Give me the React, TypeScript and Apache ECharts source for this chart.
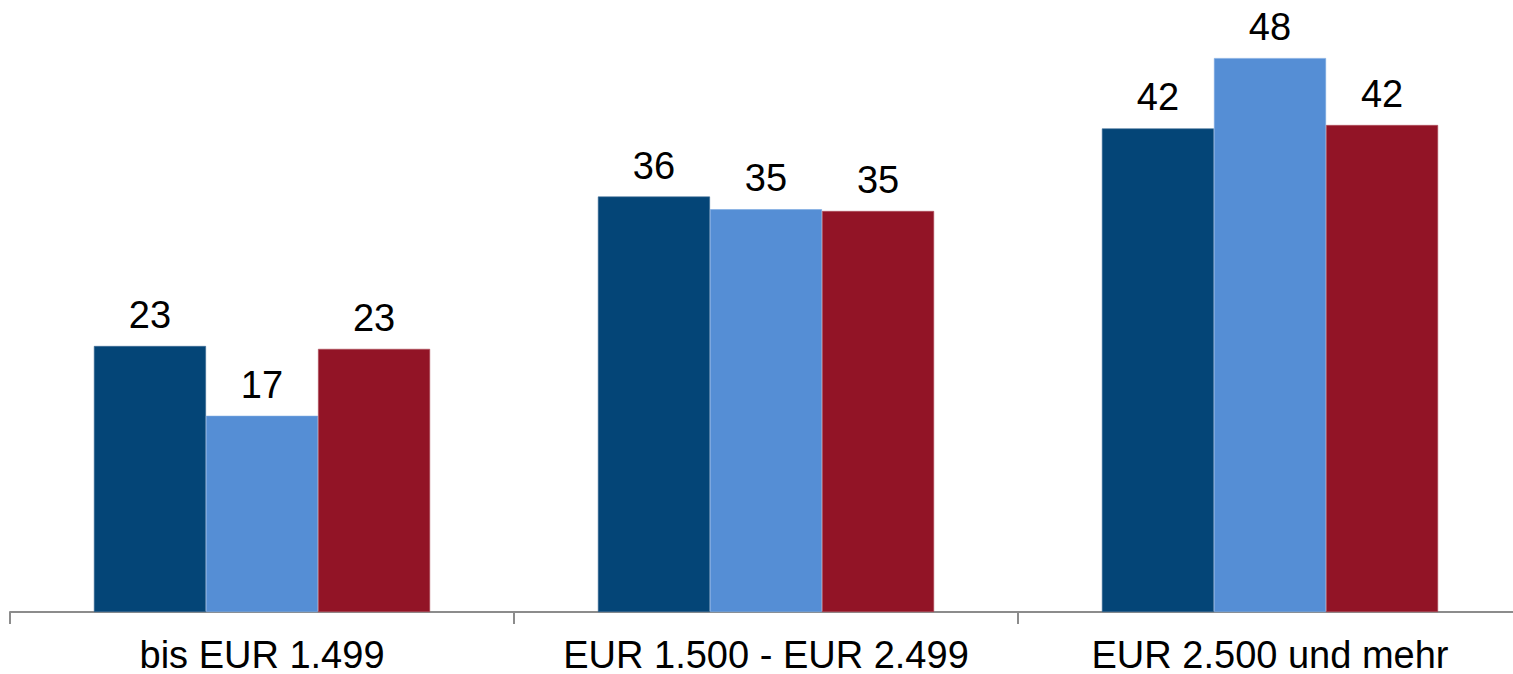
import React, { useEffect, useRef } from "react";
import * as echarts from "echarts";

// Income brackets and the three series shown per bracket
const categories = ["bis EUR 1.499", "EUR 1.500 - EUR 2.499", "EUR 2.500 und mehr"];
const seriesA = [23.05, 36.0, 41.9];
const seriesB = [17.0, 34.9, 48.0];
const seriesC = [22.8, 34.75, 42.2];

const colors = ["#044577", "#558ed5", "#921426"];
const borders = ["#3a6a94", "#7aa8e0", "#b0505e"];

const FONT = "Liberation Sans, Arial, sans-serif";

export default function App() {
  const ref = useRef<HTMLDivElement>(null);

  useEffect(() => {
    if (!ref.current) return;
    document.body.style.overflow = "hidden";
    const chart = echarts.init(ref.current, undefined, { renderer: "svg" });
    const mk = (name: string, data: number[], i: number) => ({
      name,
      type: "bar",
      data,
      barGap: "0%",
      barCategoryGap: "33.3%",
      itemStyle: { color: colors[i], borderColor: borders[i], borderWidth: 0.6 },
      label: {
        show: true,
        position: "top",
        distance: 12,
        color: "#000",
        fontFamily: FONT,
        fontSize: 38,
        formatter: (p: any) => Math.round(p.value).toString(),
      },
    });
    chart.setOption({
      animation: false,
      grid: { left: 10, right: 8, top: 35, bottom: 62, containLabel: false },
      xAxis: {
        type: "category",
        data: categories,
        axisLine: { show: true, lineStyle: { color: "#8c8c8c", width: 2 } },
        axisTick: { show: true, length: 12, lineStyle: { color: "#8c8c8c", width: 2 } },
        axisLabel: {
          interval: 0,
          color: "#000",
          fontFamily: FONT,
          fontSize: 38,
          lineHeight: 30,
          margin: 28,
        },
      },
      yAxis: {
        type: "value",
        min: 0,
        max: 50,
        show: false,
        splitLine: { show: false },
      },
      series: [mk("A", seriesA, 0), mk("B", seriesB, 1), mk("C", seriesC, 2)],
    });
    return () => chart.dispose();
  }, []);

  return (
    <div
      style={{
        position: "absolute",
        left: 0,
        top: 0,
        width: 1513,
        height: 674,
        overflow: "hidden",
      }}
    >
      <div ref={ref} style={{ width: 1530, height: 674 }} />
    </div>
  );
}
